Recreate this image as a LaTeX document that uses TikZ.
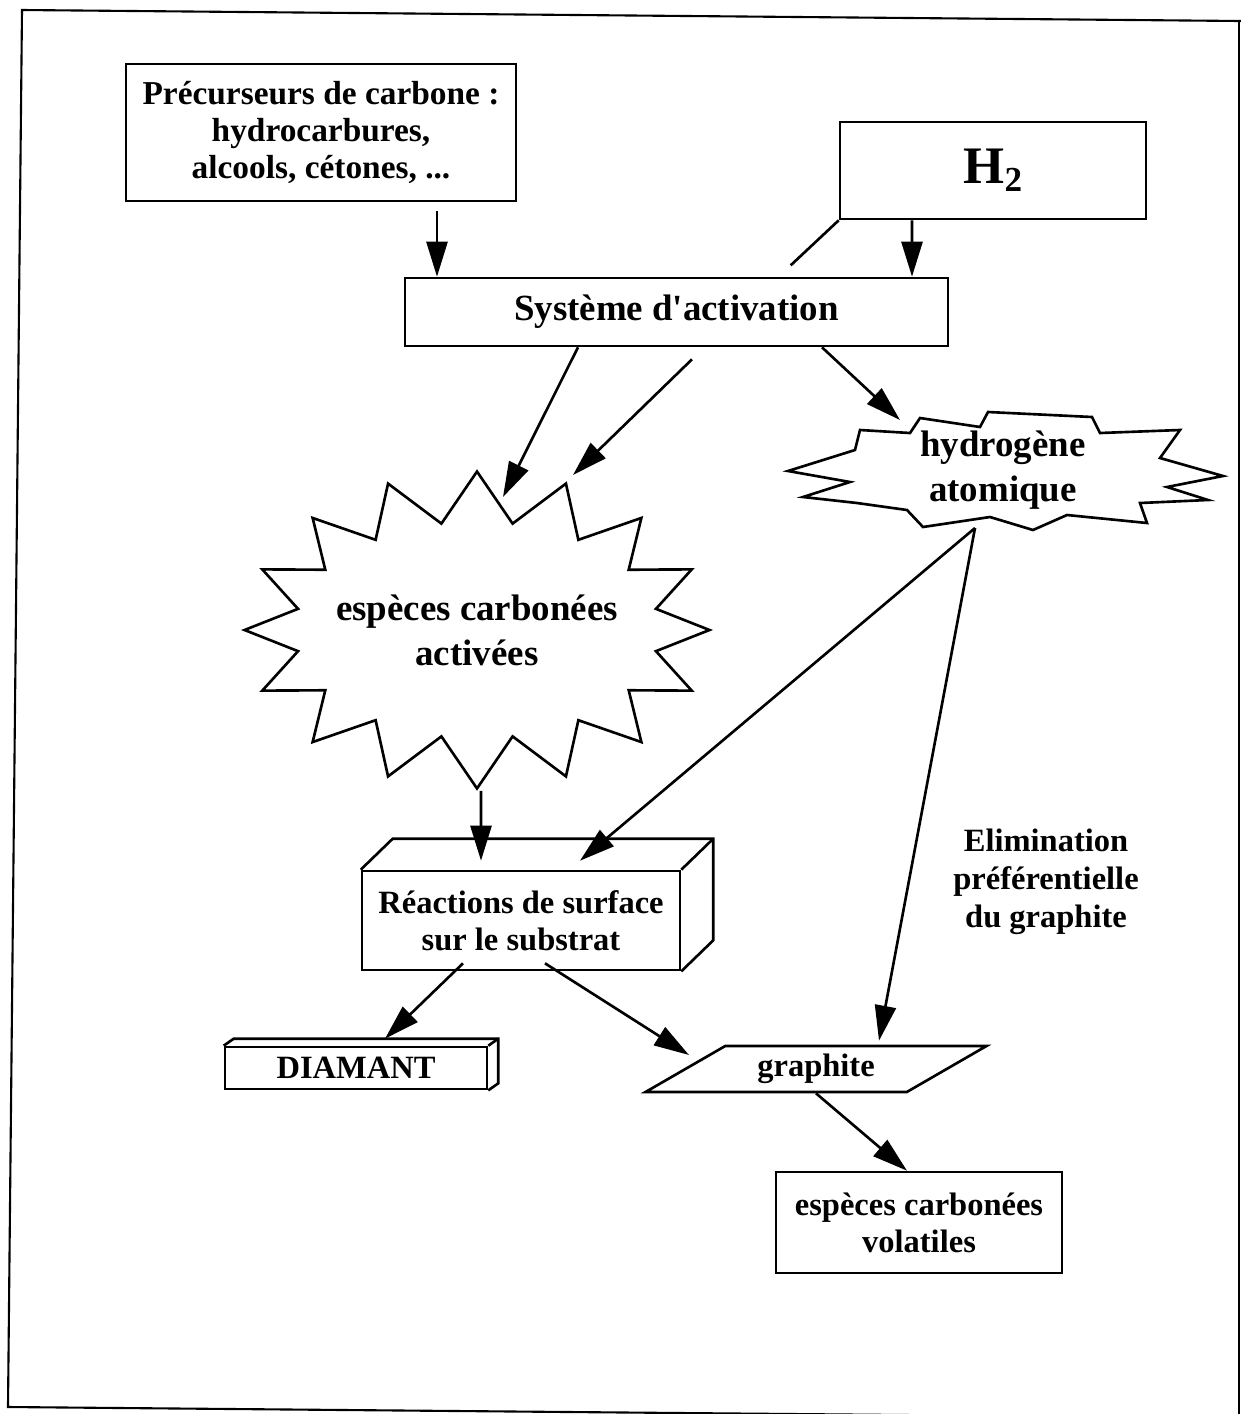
\documentclass[tikz,border=0pt]{standalone}
\usepackage{fontspec}
\setmainfont{Liberation Serif}
\usepackage{tikz}
\usetikzlibrary{positioning, arrows.meta, calc}
\usetikzlibrary{shapes.symbols, shapes.geometric}

\begin{document}
\begin{tikzpicture}[x=0.02cm, y=-0.02cm, line width=1.5pt,
	boite/.style={draw, align=center, inner sep=0pt, font=\bfseries\fontsize{18.5}{21}\selectfont},
	eclat/.style={starburst, draw, random starburst=0, starburst points=16, inner sep=0pt,
		align=center, font=\bfseries\fontsize{21}{25.5}\selectfont},
	fleche/.style={-{Triangle[length=20pt,width=12pt]}}]
	\useasboundingbox (0,0) rectangle (1241,1414);
	% cadre
	\draw[line width=1.2pt] (1241,21) -- (22,10) -- (8,1407) -- (1241,1418);
	\draw[line width=1.2pt] (1239,21) -- (1239,1414);
	
	% entrees
	\node[boite, minimum width=7.8cm, minimum height=2.74cm, font=\bfseries\fontsize{19}{21}\selectfont] (prec)
		at (321,132.5) {Précurseurs de carbone :\\hydrocarbures,\\alcools, cétones, ...};
	\node[boite, minimum width=6.12cm, minimum height=1.94cm,
		font=\bfseries\fontsize{30}{36}\selectfont] (h2) at (993,170.5)
		{H\raisebox{-4.5pt}{\fontsize{20}{20}\selectfont 2}};
	\node[boite, minimum width=10.86cm, minimum height=1.36cm, font=\bfseries\fontsize{21}{24}\selectfont] (sys)
		at (676.5,312) {Système d\textquotesingle activation};
	
	% especes actives
	\node[eclat, inner xsep=-7pt, minimum width=9.3cm, minimum height=6.34cm, starburst point height=1cm] (esp)
		at (477,630) {espèces carbonées\\activées};
	\node[align=center, font=\bfseries\fontsize{21}{25.5}\selectfont] (hyd) at (1003,470) {hydrogène\\atomique};
	\draw (860,430) -- (910,433) -- (920,418) -- (980,427) -- (988,412) -- (1092,417) -- (1100,433)
		-- (1180,430) -- (1160,458) -- (1223,476) -- (1167,487) -- (1208,500) -- (1140,503)
		-- (1147,523) -- (1067,515) -- (1033,530) -- (990,517) -- (923,527) -- (907,510)
		-- (857,503) -- (803,497) -- (850,482) -- (788,471) -- (855,450) -- cycle;
	
	% surface
	\node[boite, minimum width=6.36cm, minimum height=1.98cm] (reac) at (521,920.5)
		{Réactions de surface\\sur le substrat};
	\draw (reac.north west) -- ++(32,-31) -- ([shift={(32,-31)}]reac.north east)
		-- ([shift={(32,-31)}]reac.south east) -- (reac.south east);
	\draw (reac.north east) -- ++(32,-31);
	
	% produits
	\node[boite, minimum width=5.24cm, minimum height=0.84cm] (diam) at (356,1068) {DIAMANT};
	\draw (diam.north west) -- ++(10,-7) -- ([shift={(10,-7)}]diam.north east)
		-- ([shift={(10,-7)}]diam.south east) -- (diam.south east);
	\draw (diam.north east) -- ++(10,-7);
	\node[boite, trapezium, trapezium left angle=30, trapezium right angle=150,
		minimum width=5.86cm, minimum height=0.92cm] (graph) at (816,1069) {graphite};
	\node[boite, minimum width=5.72cm, minimum height=2.02cm] (vol) at (919,1222.5)
		{espèces carbonées\\volatiles};
	\node[align=center, font=\bfseries\fontsize{18.5}{21.5}\selectfont] (elim) at (1046,882)
		{Elimination\\préférentielle\\du graphite};
	
	% fleches
	\draw[fleche] ($(prec.south)+(116,9)$) -- ($(sys.north)+(-239.5,0)$);
	\draw[fleche] ($(h2.south)+(-81,0)$) -- ($(sys.north)+(235.5,0)$);
	\draw (h2.south west) -- ++(-48,45);
	\draw[fleche] ($(sys.south)+(-98.5,0)$) -- ($(esp.center)+(26,-133)$);
	\draw[fleche] ($(sys.south)+(15.5,12)$) -- ($(esp.center)+(96,-155)$);
	\draw[fleche] ($(sys.south)+(145.5,0)$) -- ($(hyd.center)+(-103,-50)$);
	\draw[fleche] ($(esp.south)+(4,0)$) -- ($(reac.north)+(-40,-9)$);
	\draw[fleche] ($(hyd.center)+(-28,58)$) -- ($(reac.north)+(59,-9)$);
	\draw[fleche] ($(hyd.center)+(-28,58)$) -- ($(graph.north)+(63,-4)$);
	\draw[fleche] ($(reac.south)+(-58,-8)$) -- ($(diam.north)+(29,-7)$);
	\draw[fleche] ($(reac.south)+(24,-8)$) -- ($(graph.center)+(-127,-14)$);
	\draw[fleche] (graph.south) -- ($(vol.north)+(-12,0)$);
\end{tikzpicture}
\end{document}
